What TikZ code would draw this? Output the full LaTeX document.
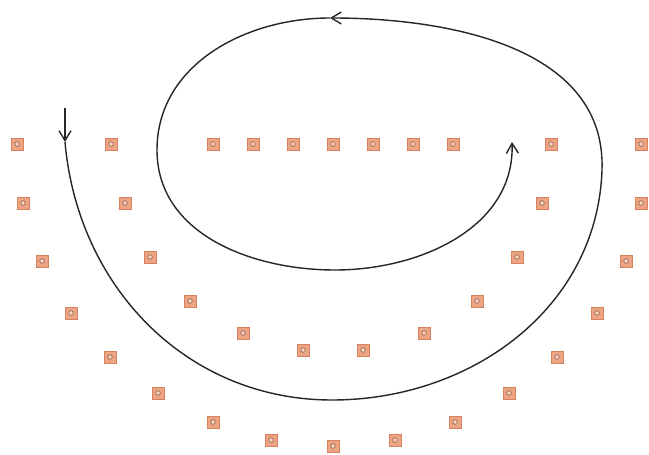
\documentclass[tikz,border=0pt]{standalone}
\usetikzlibrary{arrows.meta}
\definecolor{seatfill}{HTML}{EBA585}
\definecolor{seatline}{HTML}{D9805E}
\tikzset{
  seat/.style={draw=seatline, fill=seatfill, line width=.6pt, minimum size=.36cm, inner sep=0pt,
    path picture={\draw[seatline!70!black, line width=.5pt, fill=seatfill!50!white] (path picture bounding box.center) circle (.07cm);}},
  route/.style={line width=1.2pt, black!85},
  tip/.style={-{Straight Barb[length=3mm, width=3.6mm]}}
}
\begin{document}
\begin{tikzpicture}[x=0.03cm, y=-0.03cm]
				\useasboundingbox (0,0) rectangle (649,455);
				% top row
				\foreach \x [count=\i] in {17,111,213,253,293,333,373,413,453,551,641}
					\node[seat] (t\i) at (\x,144) {};
				% inner arc
				\foreach \x/\y [count=\i] in {125/203,150/257,190/301,243/333,303/350,363/350,424/333,477/301,517/257,542/203}
					\node[seat] (m\i) at (\x,\y) {};
				% outer arc
				\foreach \x/\y [count=\i] in {23/203,42/261,71/313,110/357,158/393,213/422,271/440,333/446,395/440,455/422,509/393,557/357,597/313,626/261,641/203}
					\node[seat] (o\i) at (\x,\y) {};
				% route
				\coordinate (start) at (65,108);
				\coordinate (down) at (65,142);
				\coordinate (bottom) at (332,400);
				\coordinate (right) at (602,170);
				\coordinate (top) at (330,18);
				\coordinate (left) at (157,150);
				\coordinate (low) at (335,270);
				\coordinate (end) at (512,142);
				\draw[route, tip] (start) -- (down);
				\draw[route] (down) to[out=-85,in=180] (bottom) to[out=0,in=-92] (right);
				\draw[route, tip] (right) to[out=88,in=0] (top);
				\draw[route] (top) to[out=180,in=90] (left) to[out=-90,in=180] (low);
				\draw[route, tip] (low) to[out=0,in=-88] (end);
			\end{tikzpicture}
\end{document}
